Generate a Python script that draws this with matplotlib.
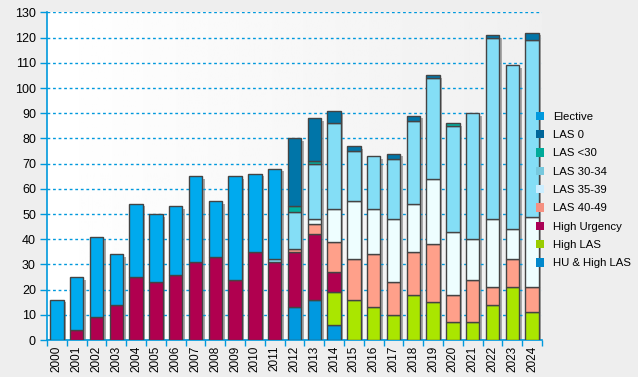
import numpy as np
import matplotlib
matplotlib.use("Agg")
import matplotlib.pyplot as plt
import matplotlib.transforms as mtransforms
from matplotlib.patches import Patch

# Datos (de abajo hacia arriba en cada barra)
anios = [str(a) for a in range(2000, 2025)]
hu_high_las = [0, 0, 0, 0, 0, 0, 0, 0, 0, 0, 0, 0, 13, 16, 6, 0, 0, 0, 0, 0, 0, 0, 0, 0, 0]
high_las = [0, 0, 0, 0, 0, 0, 0, 0, 0, 0, 0, 0, 0, 0, 13, 16, 13, 10, 18, 15, 7, 7, 14, 21, 11]
high_urgency = [0, 4, 9, 14, 25, 23, 26, 31, 33, 24, 35, 31, 22, 26, 8, 0, 0, 0, 0, 0, 0, 0, 0, 0, 0]
las_40_49 = [0, 0, 0, 0, 0, 0, 0, 0, 0, 0, 0, 0, 1, 4, 12, 16, 21, 13, 17, 23, 11, 17, 7, 11, 10]
las_35_39 = [0, 0, 0, 0, 0, 0, 0, 0, 0, 0, 0, 0, 0, 2, 13, 23, 18, 25, 19, 26, 25, 16, 27, 12, 28]
las_30_34 = [0, 0, 0, 0, 0, 0, 0, 0, 0, 0, 0, 1, 15, 22, 34, 20, 21, 24, 33, 40, 42, 50, 72, 65, 70]
las_lt30 = [0, 0, 0, 0, 0, 0, 0, 0, 0, 0, 0, 0, 2, 1, 0, 0, 0, 0, 0, 0, 1, 0, 0, 0, 0]
las_0 = [0, 0, 0, 0, 0, 0, 0, 0, 0, 0, 0, 0, 27, 17, 5, 2, 0, 2, 2, 1, 0, 0, 1, 0, 3]
elective = [16, 21, 32, 20, 29, 27, 27, 34, 22, 41, 31, 36, 0, 0, 0, 0, 0, 0, 0, 0, 0, 0, 0, 0, 0]

series = [
    ("HU & High LAS", hu_high_las, "#0099e0"),
    ("High LAS", high_las, "#aae600"),
    ("High Urgency", high_urgency, "#b0004f"),
    ("LAS 40-49", las_40_49, "#ffa08a"),
    ("LAS 35-39", las_35_39, "#eefeff"),
    ("LAS 30-34", las_30_34, "#84def6"),
    ("LAS <30", las_lt30, "#00b0a0"),
    ("LAS 0", las_0, "#0075a8"),
    ("Elective", elective, "#00aaee"),
]
colores_leyenda = {
    "Elective": "#0099dd", "LAS 0": "#006699", "LAS <30": "#00aa99",
    "LAS 30-34": "#77c8dd", "LAS 35-39": "#cceeff", "LAS 40-49": "#f59080",
    "High Urgency": "#aa0055", "High LAS": "#99cc00", "HU & High LAS": "#0088cc",
}

azul = "#0099dd"
fig = plt.figure(figsize=(6.38, 3.77), dpi=100, facecolor="#eeeeee")
ax = fig.add_axes([0.0737, 0.098, 0.7758, 0.869])
ax.set_facecolor("#eeeeee")

# fondo degradado del area del grafico
grad = np.linspace(1.0, 0.94, 256).reshape(1, -1)
ax.imshow(grad, extent=[0, 1, 0, 1], transform=ax.transAxes, cmap="gray",
          vmin=0, vmax=1, aspect="auto", zorder=0)

x = np.arange(len(anios))
ancho = 0.68
totales = np.sum([s[1] for s in series], axis=0)

# sombra
sombra = mtransforms.offset_copy(ax.transData, fig=fig, x=2.5, y=-2.5, units="dots")
ax.bar(x, totales, ancho, color="#a8a8a8", transform=sombra, zorder=1, linewidth=0)

base = np.zeros(len(anios))
for nombre, valores, color in series:
    v = np.array(valores, dtype=float)
    mask = v > 0
    ax.bar(x[mask], v[mask], ancho, bottom=base[mask], color=color,
           edgecolor="#444444", linewidth=1.0, zorder=3)
    base += v

ax.set_xlim(-0.5, len(anios) - 0.5)
ax.set_ylim(0, 130)
ax.set_yticks(range(0, 131, 10))
ax.yaxis.grid(True, linestyle=(0, (2, 2)), color=azul, linewidth=1.0, zorder=2)
ax.set_axisbelow(False)
for l in ax.get_ygridlines():
    l.set_zorder(2)

ax.set_xticks(x)
ax.set_xticklabels(anios, rotation=90, fontsize=8.5, family="Liberation Sans")
ax.set_xticks(np.arange(-0.5, len(anios), 1), minor=True)
ax.tick_params(axis="x", which="major", length=0, pad=4)
ax.tick_params(axis="x", which="minor", length=4, color=azul, width=1)
ax.tick_params(axis="y", length=5, color=azul, width=1, labelsize=9, pad=3)
for t in ax.get_yticklabels():
    t.set_family("Liberation Sans")

for lado in ["top", "right"]:
    ax.spines[lado].set_visible(False)
ax.spines["left"].set_color(azul)
ax.spines["bottom"].set_color(azul)
ax.spines["left"].set_linewidth(1.2)
ax.spines["bottom"].set_linewidth(1.2)

handles = [Patch(facecolor=colores_leyenda[n], edgecolor="none", label=n)
           for n, _, _ in reversed(series)]
fig.legend(handles=handles, loc="upper left", bbox_to_anchor=(0.84, 0.704),
           frameon=False, borderpad=0, borderaxespad=0,
           handlelength=0.75, handleheight=0.75, handletextpad=0.75,
           labelspacing=0.72, prop={"family": "Liberation Sans", "size": 8.2})

fig.savefig("out.png", dpi=100, facecolor=fig.get_facecolor())
